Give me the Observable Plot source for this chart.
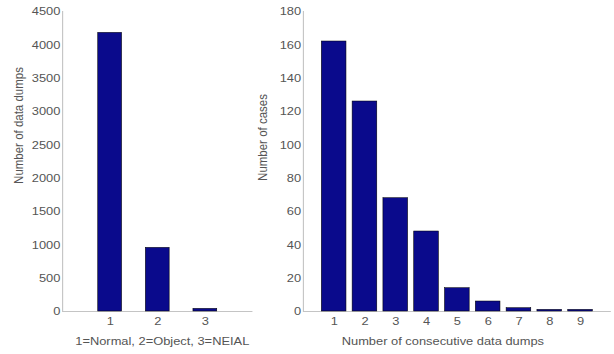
<!DOCTYPE html>
<html><head><meta charset="utf-8">
<script src="https://cdn.jsdelivr.net/npm/d3@7"></script>
<script src="https://cdn.jsdelivr.net/npm/@observablehq/plot@0.6"></script>
<style>
html,body{margin:0;padding:0;background:#fff;overflow:hidden}
#wrap{position:relative;width:548px;height:354px;transform:scaleX(1.12);transform-origin:0 0}
#wrap svg{position:absolute;top:0;overflow:visible}
</style></head><body><div id="wrap"></div>
<script>
// Left panel: dump types
const typeCategories = [1, 2, 3];
const typeCounts = [4180, 955, 40];
const typeTicks = [0, 500, 1000, 1500, 2000, 2500, 3000, 3500, 4000, 4500];
const typeXLabel = "1=Normal, 2=Object, 3=NEIAL";
const typeYLabel = "Number of data dumps";

// Right panel: consecutive dumps
const runLengths = [1, 2, 3, 4, 5, 6, 7, 8, 9];
const runCases = [162, 126, 68, 48, 14, 6, 2, 1, 1];
const caseTicks = [0, 20, 40, 60, 80, 100, 120, 140, 160, 180];
const runXLabel = "Number of consecutive data dumps";
const runYLabel = "Number of cases";

const FONT = "'Liberation Sans', Arial, Helvetica, sans-serif";
const TEXT = "#555";
const AXIS = "#c4c4c4";
const BAR = "#0a0a8c";
const FS = 11.5;

function chart(o) {
  const data = o.cats.map((c, i) => ({c, v: o.vals[i]}));
  return Plot.plot({
    width: o.width, height: 354,
    marginTop: 11, marginBottom: 43, marginLeft: o.marginLeft, marginRight: o.marginRight,
    style: {fontFamily: FONT, fontSize: FS + "px", color: TEXT, background: "transparent", overflow: "visible"},
    x: {domain: [0, o.xMax], ticks: o.cats, tickFormat: d => String(d), tickSize: 0, tickPadding: 5, label: null},
    y: {domain: [0, o.yMax], ticks: o.yTicks, tickFormat: d => String(d), tickSize: 0, tickPadding: 2, label: null},
    marks: [
      Plot.ruleY([0], {stroke: AXIS, strokeWidth: 1}),
      Plot.ruleX([0], {stroke: AXIS, strokeWidth: 1}),
      Plot.rectY(data, {x1: d => d.c - o.half, x2: d => d.c + o.half, y1: 0, y2: "v",
        fill: BAR, stroke: "#000", strokeWidth: 0.5}),
      Plot.text([o.xLabel], {frameAnchor: "bottom", dy: 29.5, dx: o.xLabelDx, lineAnchor: "middle",
        textAnchor: "middle", fill: TEXT, fontSize: FS}),
      Plot.text([o.yLabel], {frameAnchor: "left", rotate: -90, dx: o.yLabelDx, dy: o.yLabelDy,
        lineAnchor: "middle", textAnchor: "middle", fill: TEXT, fontSize: FS})
    ]
  });
}

const wrap = document.getElementById("wrap");
const left = chart({cats: typeCategories, vals: typeCounts, yTicks: typeTicks, yMax: 4500, xMax: 4, half: 0.25,
  xLabel: typeXLabel, yLabel: typeYLabel, width: 226, marginLeft: 55.4, marginRight: 0.6,
  xLabelDx: 4, yLabelDx: -39, yLabelDy: -36});
left.style.left = "0px";
wrap.appendChild(left);

const right = chart({cats: runLengths, vals: runCases, yTicks: caseTicks, yMax: 180, xMax: 10, half: 0.4,
  xLabel: runXLabel, yLabel: runYLabel, width: 316, marginLeft: 38.4, marginRight: 2.6,
  xLabelDx: -13, yLabelDx: -36, yLabelDy: -24});
right.style.left = "232.1px";
wrap.appendChild(right);
</script>
</body></html>
